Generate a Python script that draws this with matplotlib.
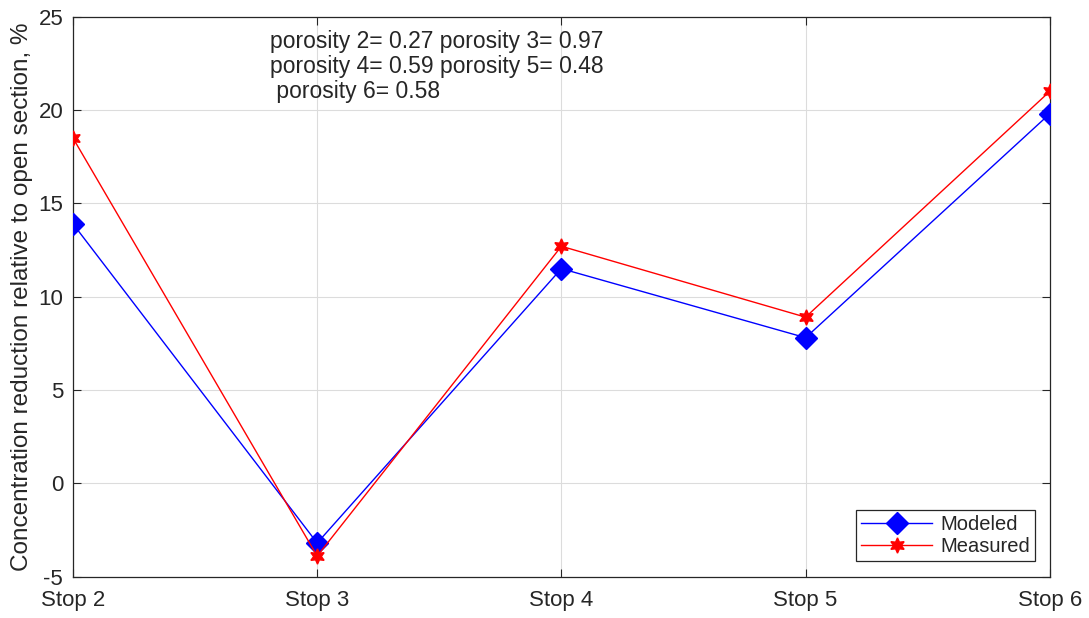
import matplotlib.pyplot as plt

plt.rcParams['font.family'] = ['Liberation Sans', 'DejaVu Sans']
plt.rcParams['axes.unicode_minus'] = False

stops = ["Stop 2", "Stop 3", "Stop 4", "Stop 5", "Stop 6"]
modeled = [13.9, -3.2, 11.5, 7.8, 19.8]
measured = [18.5, -3.9, 12.7, 8.9, 21.0]
note = ("porosity 2= 0.27 porosity 3= 0.97\n"
        "porosity 4= 0.59 porosity 5= 0.48\n"
        " porosity 6= 0.58")

fig = plt.figure(figsize=(10.89, 6.18), dpi=100)
ax = fig.add_axes([0.067, 0.067, 0.897, 0.906])

x = list(range(len(stops)))
ax.plot(x, modeled, color="blue", lw=1, marker="D", ms=11,
        mfc="blue", mec="blue", label="Modeled", zorder=3)
ax.plot(x, measured, color="red", lw=1, marker=(6, 1, 0), ms=11,
        mfc="red", mec="red", label="Measured", zorder=3)

ax.set_xlim(0, 4)
ax.set_ylim(-5, 25)
ax.set_xticks(x)
ax.set_xticklabels(stops)
ax.set_yticks(range(-5, 26, 5))
ax.tick_params(direction="in", top=True, right=True, labelsize=16,
               color="#262626", length=6, labelcolor="#262626")
ax.tick_params(axis="x", pad=10)
ax.tick_params(axis="y", pad=7)
ax.grid(True, color="#dcdcdc", lw=0.8)
for s in ax.spines.values():
    s.set_color("#262626")
    s.set_linewidth(0.9)

ax.set_ylabel("Concentration reduction relative to open section, %",
              fontsize=17.5, color="#262626", labelpad=4)
ax.text(0.805, 24.3, note, fontsize=16.5, va="top", ha="left",
        linespacing=1.12, color="#262626")

leg = ax.legend(loc="lower right", fontsize=14.5, fancybox=False, framealpha=1,
                edgecolor="#262626", borderaxespad=0.75, handlelength=3.5,
                borderpad=0.25, labelspacing=0.15, handletextpad=0.4)
leg.get_frame().set_linewidth(0.9)
for t in leg.get_texts():
    t.set_color("#262626")

fig.savefig("out.png", dpi=100)
